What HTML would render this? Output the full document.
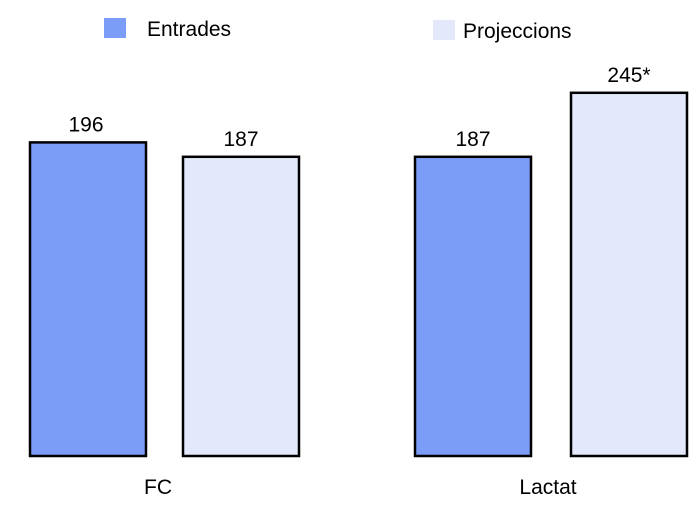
<!DOCTYPE html>
<html><head><meta charset="utf-8"><style>
html,body{margin:0;padding:0;background:#fff;}
svg{display:block;font-family:"Liberation Sans",sans-serif;}
</style></head><body>
<svg id="chart" width="700" height="522" viewBox="0 0 700 522">
  <g>
    <rect x="104" y="18" width="22" height="20" fill="#7b9cf7"/>
    <text x="147" y="36" font-size="21" fill="#000">Entrades</text>
    <rect x="433" y="20" width="22" height="20" fill="#e3e9fb"/>
    <text x="463" y="38" font-size="21" fill="#000">Projeccions</text>
  </g>
  <g id="bars"></g>
</svg>
<script>
const categories = ["FC", "Lactat"];
const entrades = [196, 187];
const projeccions = [187, 227];
const valueLabels = [["196", "187"], ["187", "245*"]];

const baseline = 456, scale = 1.6;
const groupX = [30, 415];
const gaps = [37, 40];
const catLabelX = [158, 548];
const barW = 116;
const colors = ["#7b9cf7", "#e3e9fb"];
const y = v => baseline - v * scale;
const g = document.getElementById('bars');
const NS = "http://www.w3.org/2000/svg";
categories.forEach((c, i) => {
  const vals = [entrades[i], projeccions[i]];
  vals.forEach((v, j) => {
    const x = groupX[i] + j * (barW + gaps[i]);
    const r = document.createElementNS(NS, 'rect');
    r.setAttribute('x', x); r.setAttribute('y', y(v));
    r.setAttribute('width', barW); r.setAttribute('height', baseline - y(v));
    r.setAttribute('fill', colors[j]); r.setAttribute('stroke', '#000'); r.setAttribute('stroke-width', '2.5');
    
    
    g.appendChild(r);
    const t = document.createElementNS(NS, 'text');
    t.setAttribute('x', x + barW / 2 - (j === 0 && i === 0 ? 2 : 0)); t.setAttribute('y', y(v) - 11);
    t.setAttribute('text-anchor', 'middle'); t.setAttribute('font-size', '21');
    t.textContent = valueLabels[i][j];
    
    
    g.appendChild(t);
  });
  const ct = document.createElementNS(NS, 'text');
  ct.setAttribute('x', catLabelX[i]); ct.setAttribute('y', 494);
  ct.setAttribute('text-anchor', 'middle'); ct.setAttribute('font-size', '21');
  ct.textContent = c;
  
  
  g.appendChild(ct);
});
</script>
</body></html>
